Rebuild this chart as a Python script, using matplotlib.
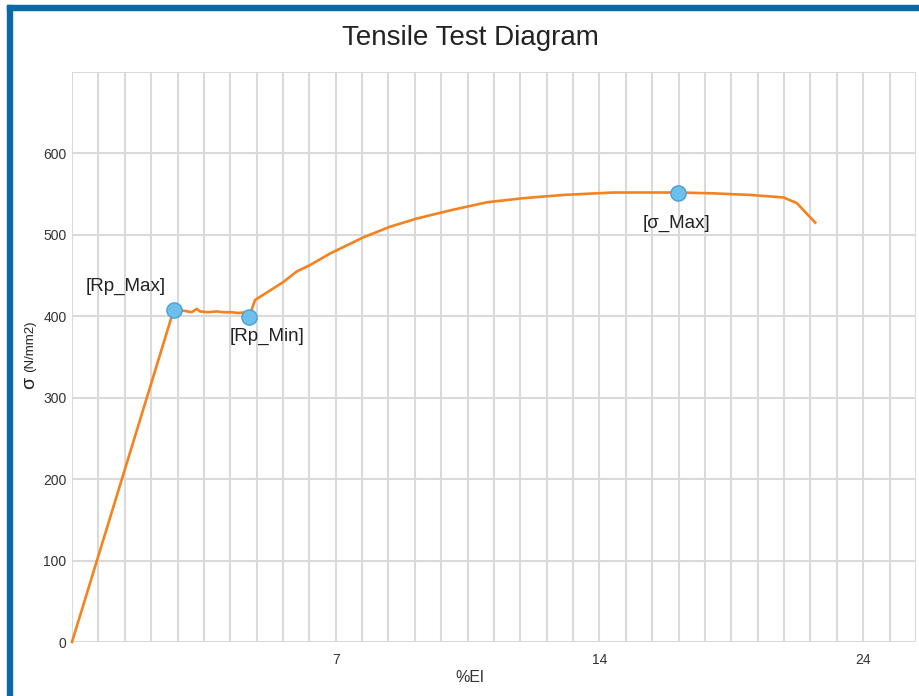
import numpy as np
import matplotlib
matplotlib.use("Agg")
import matplotlib.pyplot as plt
from matplotlib.patches import Rectangle

plt.rcParams['font.family'] = ['Liberation Sans', 'DejaVu Sans']

# curve position along the category axis (one grid step per category) and stress
elong_pos = [0, 3.83, 4.21, 4.54, 4.73, 4.85, 5.16, 5.49, 5.73, 6.06, 6.30,
             6.62, 6.75, 6.81, 6.94, 8.01, 8.52, 9.03, 9.78, 11.05, 12.06,
             13.07, 14.33, 15.73, 17.10, 18.62, 20.52, 22.98, 24.31, 25.71,
             26.97, 27.48, 27.86, 28.18]
stress = [0, 405, 407, 405, 409, 406, 405, 406, 405, 405, 404,
          405, 401, 408, 420, 442, 455, 463, 477, 497, 510,
          520, 530, 540, 545, 549, 552, 552, 551, 549,
          546, 539, 526, 515]

# marked points
mark_names = ["[Rp_Max]", "[Rp_Min]", "[σ_Max]"]
mark_pos = [3.87, 6.72, 22.98]
mark_stress = [408, 399, 552]

# category tick labels shown on the x axis
xtick_pos = [10, 20, 30]
xtick_labels = ["7", "14", "24"]
n_categories = 32

fig = plt.figure(figsize=(9.2, 6.96), dpi=100)
ax = fig.add_axes([72 / 920, 1 - 642 / 696, 844 / 920, 570 / 696])

ax.plot(elong_pos, stress, color="#f5821f", lw=1.9, zorder=3, clip_on=False)
ax.scatter(mark_pos, mark_stress, s=120, color="#6ec0ec", edgecolors="#4a9fd6",
           linewidths=1.0, zorder=4, clip_on=False)

# point labels
ax.annotate(mark_names[0], (mark_pos[0], mark_stress[0]), xytext=(-35, 17),
            textcoords="offset points", ha="center", va="center",
            fontsize=13.5, color="#222222")
ax.annotate(mark_names[1], (mark_pos[1], mark_stress[1]), xytext=(13, -14),
            textcoords="offset points", ha="center", va="center",
            fontsize=13.5, color="#222222")
ax.annotate(mark_names[2], (mark_pos[2], mark_stress[2]), xytext=(-1.5, -22),
            textcoords="offset points", ha="center", va="center",
            fontsize=13.5, color="#222222")

ax.set_xlim(0, n_categories)
ax.set_ylim(0, 700)
ax.set_xticks(np.arange(0, n_categories + 1), minor=True)
ax.set_xticks(xtick_pos)
ax.set_xticklabels(xtick_labels)
ax.set_yticks(np.arange(0, 701, 100))
ax.set_yticklabels([str(v) if v < 700 else "" for v in range(0, 701, 100)])
ax.grid(True, which="both", color="#dadada", lw=1.5, zorder=0)
ax.set_axisbelow(True)
ax.tick_params(which="both", length=0, labelsize=10, colors="#333333")
ax.tick_params(axis="x", pad=8)
ax.tick_params(axis="y", pad=4)
for s in ax.spines.values():
    s.set_visible(False)

ax.set_xlabel("%El", fontsize=11.5, color="#333333")
ax.xaxis.set_label_coords((470 - 72) / 844, -0.05)
fig.text(30 / 920, 1 - 383 / 696, "σ", rotation=90, ha="center", va="center",
         fontsize=14, color="#222222")
fig.text(30 / 920, 1 - 346 / 696, "(N/mm2)", rotation=90, ha="center",
         va="center", fontsize=9.5, color="#222222")

fig.text(470 / 920, 1 - 38 / 696, "Tensile Test Diagram", ha="center",
         va="center", fontsize=20, color="#222222")

# card border (top and left)
fig.patches.append(Rectangle((7 / 920, 0), 5 / 920, 1 - 5 / 696,
                             transform=fig.transFigure, color="#0a69a6"))
fig.patches.append(Rectangle((7 / 920, 1 - 10 / 696), 1, 5 / 696,
                             transform=fig.transFigure, color="#0a69a6"))

fig.savefig("out.png", dpi=100)
